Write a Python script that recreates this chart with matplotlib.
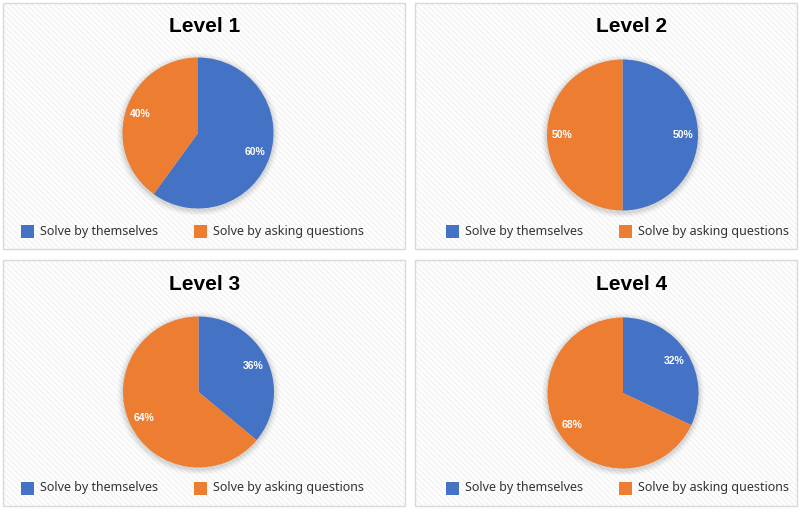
import matplotlib
matplotlib.use("Agg")
import matplotlib.pyplot as plt
from matplotlib.patches import Rectangle

plt.rcParams['font.family'] = ['Noto Sans', 'DejaVu Sans']
plt.rcParams['hatch.linewidth'] = 0.6

titles = ["Level 1", "Level 2", "Level 3", "Level 4"]
series_labels = ["Solve by themselves", "Solve by asking questions"]
themselves = [60, 50, 36, 32]
asking = [40, 50, 64, 68]
colors = ["#4472C4", "#ED7D31"]

BOLD = ['Liberation Sans', 'DejaVu Sans']

W, H = 800, 512
fig = plt.figure(figsize=(8, 5.12), dpi=100)
fig.patch.set_facecolor("white")

def fx(x):
    return x / W

def fy(y):
    return 1 - y / H

# panel layout in pixels (left, top, right, bottom)
panels = [(3, 3, 405, 249), (415, 3, 797, 249), (3, 260, 405, 506), (415, 260, 797, 506)]
pie_centers = [(198, 133), (622.5, 135), (198.5, 392), (623, 393)]
radius = 75.5
title_pos = [(204.5, 27), (631.5, 27), (204.5, 285), (631.5, 285)]
legend_y = [231.5, 231.5, 488, 488]
legend_x = [(21, 194), (446, 619), (21, 194), (446, 619)]
sq = 13

for i in range(4):
    l, t, r, b = panels[i]
    bg = Rectangle((fx(l), fy(b)), fx(r - l), (b - t) / H, transform=fig.transFigure,
                   facecolor="#fdfdfd", edgecolor="#eeeeee", hatch="\\\\\\\\\\\\",
                   linewidth=0, zorder=0)
    fig.add_artist(bg)
    border = Rectangle((fx(l), fy(b)), fx(r - l), (b - t) / H, transform=fig.transFigure,
                       facecolor="none", edgecolor="#d9d9d9", linewidth=1.0, zorder=1)
    fig.add_artist(border)

    cx, cy = pie_centers[i]
    ax = fig.add_axes([fx(cx - radius - 6), fy(cy + radius + 6), (2 * radius + 12) / W, (2 * radius + 12) / H])
    ext = (radius + 6) / radius
    ax.axis("off")
    for k, a in enumerate([0.05, 0.04, 0.03, 0.02]):
        shadow = plt.Circle((0, -0.02), 1.0 + 0.02 * (k + 1), color="black", alpha=a, lw=0, zorder=0)
        ax.add_patch(shadow)
    wedges, texts, autotexts = ax.pie(
        [themselves[i], asking[i]], colors=colors, startangle=90, counterclock=False,
        autopct=lambda p: f"{p:.0f}%", pctdistance=0.8, radius=1.0,
        wedgeprops=dict(linewidth=0),
        textprops=dict(color="white", fontsize=7.5, fontweight="bold", family=BOLD))
    ax.set_xlim(-ext, ext)
    ax.set_ylim(-ext, ext)
    ax.set_aspect("equal")

    tx, ty = title_pos[i]
    fig.text(fx(tx), fy(ty), titles[i], ha="center", va="center", fontsize=15,
             fontweight="bold", color="black", family=BOLD)

    ly = legend_y[i]
    for j in range(2):
        x0 = legend_x[i][j]
        fig.add_artist(Rectangle((fx(x0), fy(ly + sq / 2)), sq / W, sq / H,
                                 transform=fig.transFigure, facecolor=colors[j],
                                 edgecolor="none", zorder=3))
        fig.text(fx(x0 + sq + 6), fy(ly), series_labels[j], ha="left", va="center",
                 fontsize=9, color="#333333")

fig.savefig("out.png", dpi=100)
